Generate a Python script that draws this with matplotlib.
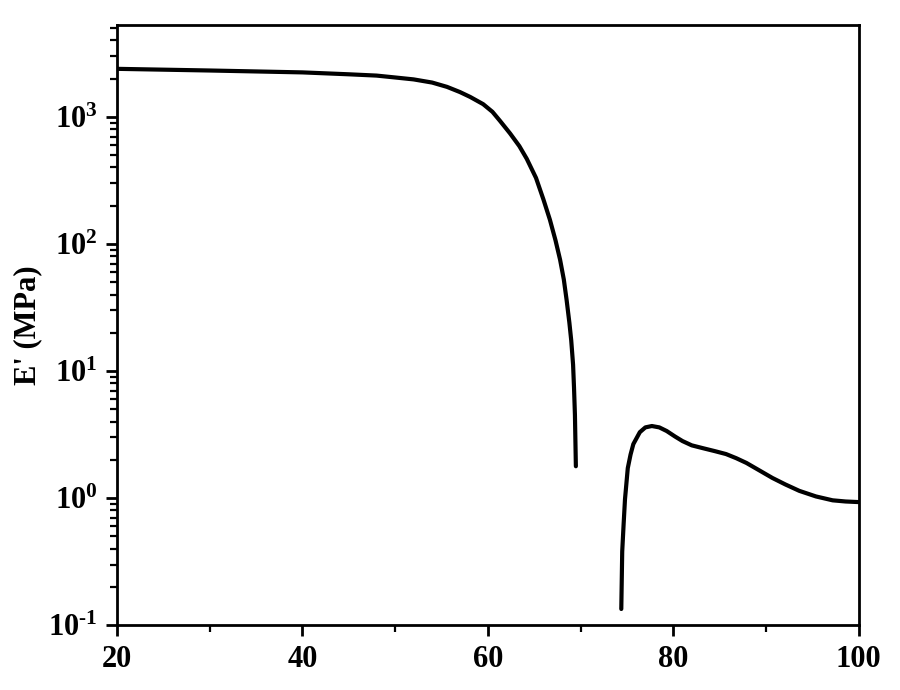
import matplotlib
matplotlib.use("Agg")
import matplotlib.pyplot as plt
from matplotlib.ticker import LogLocator, MultipleLocator, FuncFormatter
import numpy as np

# Storage modulus E' vs temperature
temp_glassy = [20, 30, 40, 45, 48, 50, 52, 54, 55.6, 57, 58.1, 59.5, 60.5,
               61.3, 62.4, 63.4, 64.2, 65.2, 66.0, 66.7, 67.3, 67.8, 68.2,
               68.5, 68.8, 69.0, 69.2, 69.3, 69.4, 69.5]
mod_glassy = [2388, 2317, 2239, 2163, 2113, 2042, 1972, 1862, 1722, 1567,
              1435, 1259, 1096, 933, 741, 589, 468, 331, 224, 155, 107, 75,
              52.5, 36.3, 24, 17.4, 11.2, 7.4, 4.5, 1.78]

temp_rubbery = [74.4, 74.5, 74.65, 74.8, 75.1, 75.4, 75.7, 76.4, 77.0, 77.7,
                78.5, 79.3, 80.2, 81.0, 82.0, 83.2, 84.5, 85.7, 86.8, 87.9,
                89.3, 90.7, 92.1, 93.6, 95.4, 97.2, 98.6, 100]
mod_rubbery = [0.134, 0.38, 0.62, 0.98, 1.72, 2.2, 2.66, 3.3, 3.6, 3.69,
               3.6, 3.37, 3.05, 2.81, 2.6, 2.47, 2.34, 2.22, 2.06, 1.89,
               1.65, 1.44, 1.28, 1.14, 1.03, 0.96, 0.94, 0.93]

plt.rcParams["font.family"] = ["Liberation Serif", "DejaVu Serif"]
plt.rcParams["font.weight"] = "bold"
plt.rcParams["mathtext.fontset"] = "custom"
plt.rcParams["mathtext.rm"] = "Liberation Serif:bold"
plt.rcParams["mathtext.it"] = "Liberation Serif:bold"
plt.rcParams["mathtext.bf"] = "Liberation Serif:bold"

fig = plt.figure(figsize=(9, 6.9), dpi=100)
ax = fig.add_axes([0.130, 0.094, 0.824, 0.870])

ax.plot(temp_glassy, mod_glassy, color="black", lw=3.0,
        solid_capstyle="round", solid_joinstyle="round")
ax.plot(temp_rubbery, mod_rubbery, color="black", lw=3.0,
        solid_capstyle="round", solid_joinstyle="round")

ax.set_yscale("log")
ax.set_xlim(20, 100)
ax.set_ylim(0.1, 5300)

ax.xaxis.set_major_locator(MultipleLocator(20))
ax.xaxis.set_minor_locator(MultipleLocator(10))
ax.yaxis.set_major_locator(LogLocator(base=10, numticks=10))
ax.yaxis.set_minor_locator(LogLocator(base=10, subs=range(2, 10), numticks=20))
# plain hyphen in the exponent, like the original figure
ax.yaxis.set_major_formatter(
    FuncFormatter(lambda v, pos: r"10$^{\text{%d}}$" % int(round(np.log10(v)))))

for side in ["left", "bottom", "top", "right"]:
    ax.spines[side].set_linewidth(2.0)

ax.tick_params(which="major", direction="out", length=8, width=2.0,
               labelsize=22, top=False, right=False)
ax.tick_params(axis="x", which="major", pad=6)
ax.tick_params(axis="y", which="major", pad=6)
ax.tick_params(which="minor", direction="out", length=5, width=1.6,
               top=False, right=False)

ax.set_ylabel("E' (MPa)", fontsize=22, fontweight="bold")
ax.yaxis.set_label_coords(-0.101, 0.5)

fig.savefig("out.png", dpi=100)
